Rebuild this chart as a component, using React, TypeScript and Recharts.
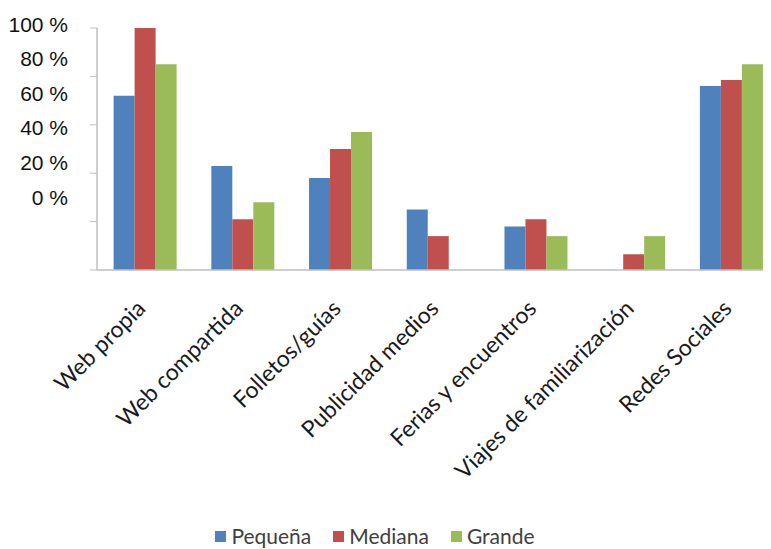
import { BarChart, Bar, XAxis, YAxis, Legend } from 'recharts'

const categories = [
  'Web propia',
  'Web compartida',
  'Folletos/guías',
  'Publicidad medios',
  'Ferias y encuentros',
  'Viajes de familiarización',
  'Redes Sociales',
]
const seriesNames = ['Pequeña', 'Mediana', 'Grande']
const pequena = [72, 43, 38, 25, 18, 0, 76]
const mediana = [100, 21, 50, 14, 21, 6.5, 78.5]
const grande = [85, 28, 57, 0, 14, 14, 85]
const yTicks = [0, 20, 40, 60, 80, 100]
const edgeTicks = [0, 1, 2, 3, 4, 5, 6, 7]

const data = categories.map((name, i) => ({
  name,
  Pequeña: pequena[i],
  Mediana: mediana[i],
  Grande: grande[i],
}))

const AXIS = '#bfbfbf'
const PLOT_TOP = 20

// the labels in the original sit on a squeezed scale, not level with the ticks
function YTick(props: any) {
  const { x, y, payload } = props
  const ly = 16 + (y - PLOT_TOP) * 0.715
  return (
    <text x={x} y={ly} dy="0.36em" textAnchor="end" fill="#111"
      style={{ fontFamily: '"Liberation Sans", Arial, sans-serif', fontSize: 21 }}>
      {`${payload.value} %`}
    </text>
  )
}

function XTick(props: any) {
  const { x, y, payload } = props
  const ax = x + 1
  const ay = y + 32
  return (
    <text x={ax} y={ay} textAnchor="end" transform={`rotate(-45, ${ax}, ${ay})`} fill="#1a1a1a"
      style={{ fontFamily: 'Lato, "Open Sans", sans-serif', fontSize: 23 }}>
      {payload.value}
    </text>
  )
}

export default function App() {
  return (
    <div style={{ width: 763, height: 541, overflow: 'hidden' }}>
      <BarChart
        width={778}
        height={541}
        data={data}
        margin={{ top: PLOT_TOP, right: 5, left: 0, bottom: 0 }}
        barCategoryGap="17%"
        barGap={0}
      >
        <XAxis
          xAxisId="edges"
          type="number"
          domain={[0, 7]}
          ticks={edgeTicks}
          tick={false}
          axisLine={false}
          tickLine={{ stroke: AXIS }}
          tickSize={7}
          height={0}
        />
        <XAxis
          dataKey="name"
          interval={0}
          tick={<XTick />}
          tickLine={false}
          axisLine={{ stroke: AXIS, strokeWidth: 1.5 }}
          height={255}
        />
        <YAxis
          width={89}
          domain={[0, 100]}
          ticks={yTicks}
          tick={<YTick />}
          tickSize={7}
          tickMargin={22}
          axisLine={{ stroke: AXIS, strokeWidth: 1.5 }}
          tickLine={{ stroke: AXIS }}
        />
        <Legend
          iconType="square"
          iconSize={11}
          itemSorter={(item: any) => seriesNames.indexOf(item.value)}
          wrapperStyle={{ top: 516, left: 0, width: 756, height: 24, lineHeight: '22px' }}
          formatter={(value: string) => (
            <span style={{ color: '#404040', fontFamily: 'Lato, sans-serif', fontSize: 21, marginLeft: 1, marginRight: 12, verticalAlign: 'middle' }}>
              {value}
            </span>
          )}
        />
        <Bar dataKey="Pequeña" fill="#4f81bd" isAnimationActive={false} />
        <Bar dataKey="Mediana" fill="#c0504d" isAnimationActive={false} />
        <Bar dataKey="Grande" fill="#9bbb59" isAnimationActive={false} />
      </BarChart>
    </div>
  )
}
